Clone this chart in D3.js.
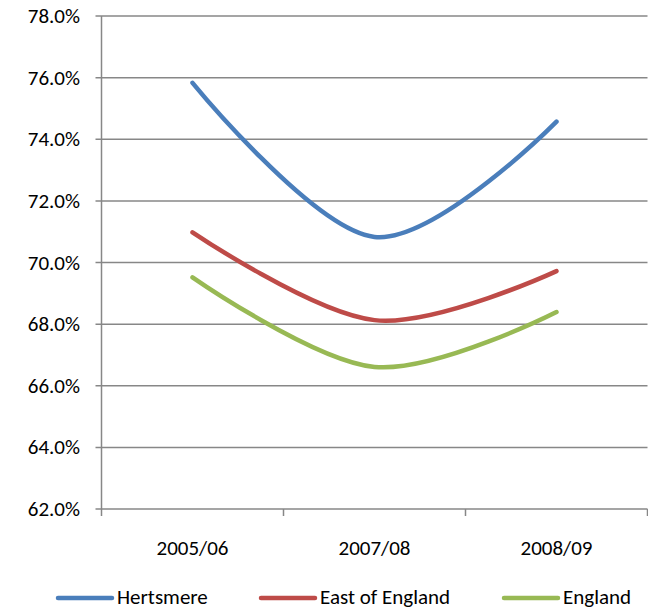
<!DOCTYPE html>
<html>
<head>
<meta charset="utf-8">
<script src="https://cdn.jsdelivr.net/npm/d3@7"></script>
<style>
  body { margin: 0; background: #fff; }
  text { font-family: Carlito, "Liberation Sans Narrow", "Open Sans", sans-serif; fill: #000; }
</style>
</head>
<body>
<div id="chart"></div>
<script>
// years on the x axis
var years = ["2005/06", "2007/08", "2008/09"];

// series
var names = ["Hertsmere", "East of England", "England"];
var hertsmere = [75.83, 70.83, 74.57];
var eastOfEngland = [70.98, 68.13, 69.72];
var england = [69.52, 66.61, 68.39];

var yTicks = [62, 64, 66, 68, 70, 72, 74, 76, 78];
var colors = ["#4a7ebb", "#be4b48", "#98b954"];

var width = 648, height = 611;
var plotLeft = 101.5, plotRight = 647.5, plotTop = 16, plotBottom = 509;

var svg = d3.select("#chart").append("svg")
	.attr("width", width)
	.attr("height", height);

var x = d3.scaleBand().domain(years).range([plotLeft, plotRight]);
var y = d3.scaleLinear().domain([62, 78]).range([plotBottom, plotTop]);

// gridlines
svg.selectAll(".grid")
	.data(yTicks)
	.enter()
	.append("line")
	.attr("x1", plotLeft - 6)
	.attr("x2", plotRight)
	.attr("y1", function(d){ return y(d); })
	.attr("y2", function(d){ return y(d); })
	.attr("stroke", "#878787")
	.attr("stroke-width", 1.5);

// y axis line
svg.append("line")
	.attr("x1", plotLeft).attr("x2", plotLeft)
	.attr("y1", plotTop).attr("y2", plotBottom)
	.attr("stroke", "#878787")
	.attr("stroke-width", 1.5);

// x ticks
svg.selectAll(".xtick")
	.data(years.concat(["end"]))
	.enter()
	.append("line")
	.attr("x1", function(d, i){ return plotLeft + i * x.bandwidth(); })
	.attr("x2", function(d, i){ return plotLeft + i * x.bandwidth(); })
	.attr("y1", plotBottom)
	.attr("y2", plotBottom + 7)
	.attr("stroke", "#878787")
	.attr("stroke-width", 1.5);

// y labels
svg.selectAll(".ylab")
	.data(yTicks)
	.enter()
	.append("text")
	.attr("x", 80)
	.attr("y", function(d){ return y(d) + 7; })
	.attr("text-anchor", "end")
	.style("font-size", "21px")
	.text(function(d){ return d.toFixed(1) + "%"; });

// x labels
svg.selectAll(".xlab")
	.data(years)
	.enter()
	.append("text")
	.attr("x", function(d){ return x(d) + x.bandwidth() / 2; })
	.attr("y", 555)
	.attr("text-anchor", "middle")
	.style("font-size", "21px")
	.text(function(d){ return d; });

// lines
var line = d3.line()
	.x(function(d, i){ return x(years[i]) + x.bandwidth() / 2; })
	.y(function(d){ return y(d); })
	.curve(d3.curveCardinal.tension(0));

[hertsmere, eastOfEngland, england].forEach(function(s, k){
	svg.append("path")
		.attr("d", line(s))
		.attr("fill", "none")
		.attr("stroke", colors[k])
		.attr("stroke-width", 4.5)
		.attr("stroke-linecap", "round");
});

// legend
var legX = [58, 261, 504];
var leg = svg.selectAll(".leg")
	.data(names)
	.enter()
	.append("g")
	.attr("transform", function(d, i){ return "translate(" + legX[i] + ",598)"; });

leg.append("line")
	.attr("x1", 0).attr("x2", 54)
	.attr("y1", 0).attr("y2", 0)
	.attr("stroke", function(d, i){ return colors[i]; })
	.attr("stroke-width", 4.5)
	.attr("stroke-linecap", "round");

leg.append("text")
	.attr("x", 59)
	.attr("y", 6)
	.style("font-size", "21px")
	.text(function(d){ return d; });
</script>
</body>
</html>
